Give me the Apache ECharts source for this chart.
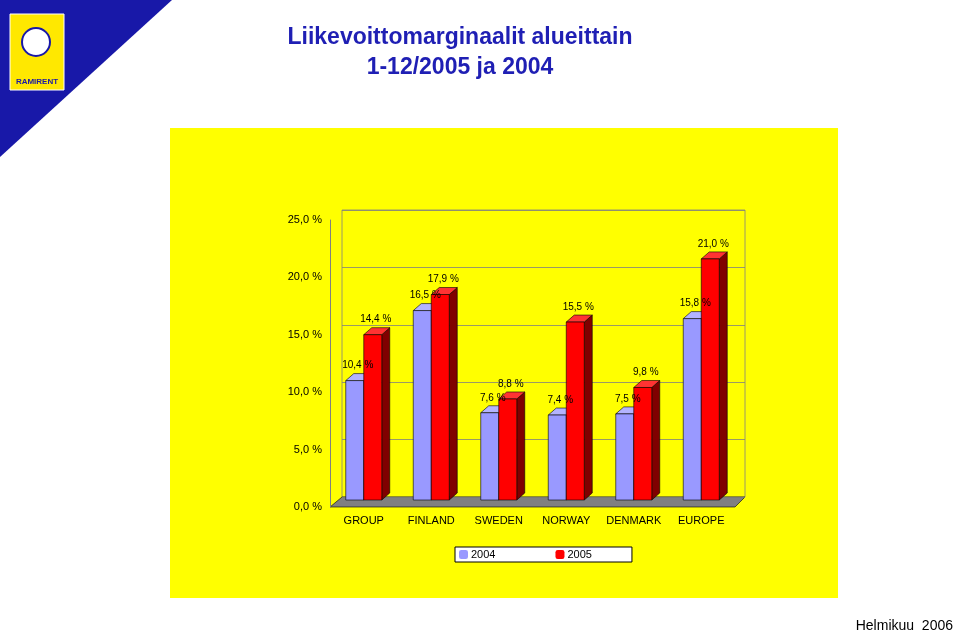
<!DOCTYPE html>
<html><head><meta charset="utf-8">
<script src="https://cdn.jsdelivr.net/npm/echarts@6/dist/echarts.min.js"></script>
<style>html,body{margin:0;padding:0;background:#fff}#c{width:960px;height:639px}</style>
</head><body><div id="c"></div>
<script>
const categories = ['GROUP','FINLAND','SWEDEN','NORWAY','DENMARK','EUROPE'];
const values2004 = [10.4,16.5,7.6,7.4,7.5,15.8];
const values2005 = [14.4,17.9,8.8,15.5,9.8,21.0];
const yTicks = [0,5,10,15,20,25];

const chart = echarts.init(document.getElementById('c'));
const DX = 8, DY = -7, BW = 18;
function fmt(v){return v.toFixed(1).replace('.', ',') + ' %';}
function make3d(front, top, side, off){
  return function(params, api){
    const i = api.value(0), v = api.value(1);
    const p = api.coord([i, v]); const b = api.coord([i, 0]);
    const x0 = p[0] + off, x1 = x0 + BW, y0 = p[1], y1 = b[1];
    return {type:'group', children:[
      {type:'polygon', shape:{points:[[x1,y1],[x1+DX,y1+DY],[x1+DX,y0+DY],[x1,y0]]}, style:{fill:side, stroke:'#000', lineWidth:0.6}},
      {type:'polygon', shape:{points:[[x0,y0],[x0+DX,y0+DY],[x1+DX,y0+DY],[x1,y0]]}, style:{fill:top, stroke:'#000', lineWidth:0.6}},
      {type:'rect', shape:{x:x0,y:y0,width:BW,height:y1-y0}, style:{fill:front, stroke:'#000', lineWidth:0.6}}
    ]};
  };
}
function makeLabel(off){
  return function(params, api){
    const i = api.value(0), v = api.value(1);
    const p = api.coord([i, v]);
    const x0 = p[0] + off;
    return {type:'text', style:{text:fmt(v), x:x0+BW/2+3, y:p[1]-20, align:'center', fill:'#000', font:'10px Arial, "Liberation Sans"'}};
  };
}
chart.setOption({
  animation:false,
  backgroundColor:'#fff',
  graphic:[
    {type:'polygon', shape:{points:[[0,0],[172,0],[0,157]]}, style:{fill:'#1818a8'}},
    {type:'rect', shape:{x:10,y:14,width:54,height:76}, style:{fill:'#ffe800', stroke:'#fff', lineWidth:1}},
    {type:'circle', shape:{cx:36,cy:42,r:14}, style:{fill:'#fff', stroke:'#1818a8', lineWidth:2}},
    {type:'text', style:{text:'RAMIRENT', x:37, y:78, align:'center', fill:'#1818a8', font:'bold 8px Arial'}},
    {type:'rect', shape:{x:170,y:128,width:668,height:470}, style:{fill:'#ffff00'}, z:-10},
    {type:'polygon', shape:{points:[[330,507],[342,497],[745,497],[735,507]]}, style:{fill:'#808080', stroke:'#000', lineWidth:0.6}, z:-1},
    {type:'rect', shape:{x:342,y:210,width:403,height:287}, style:{fill:'#ffff00', stroke:'#808080', lineWidth:0.8}, z:-5},
    {type:'text', style:{text:'Liikevoittomarginaalit alueittain', x:460, y:38, align:'center', verticalAlign:'middle', fill:'#1f1fb4', font:'bold 23px Arial, "Liberation Sans"'}},
    {type:'text', style:{text:'1-12/2005 ja 2004', x:460, y:68, align:'center', verticalAlign:'middle', fill:'#1f1fb4', font:'bold 23px Arial, "Liberation Sans"'}},
    {type:'text', style:{text:'Helmikuu  2006', x:953, y:633, align:'right', verticalAlign:'bottom', fill:'#000', font:'14px Arial, "Liberation Sans"'}}
  ],
  legend:{data:['2004','2005'], left:455, top:547, width:185, itemGap:60, itemWidth:9, itemHeight:9,
    borderColor:'#000', borderWidth:1, padding:[2,40,2,4], backgroundColor:'#fff',
    textStyle:{fontSize:11, fontFamily:'Arial', color:'#000', padding:[0,0,0,-2]}},
  grid:[{left:330, right:225, top:213, bottom:139}, {left:342, right:215, top:210, bottom:142}, {left:330, right:225, top:220, bottom:132}],
  xAxis:[
    {type:'category', data:categories, gridIndex:0, axisTick:{show:false}, axisLine:{show:false},
     axisLabel:{interval:0, fontSize:11, fontFamily:'Arial', color:'#000', margin:15}},
    {type:'category', data:categories, gridIndex:1, show:false},
    {type:'category', data:categories, gridIndex:2, show:false}
  ],
  yAxis:[
    {type:'value', gridIndex:0, min:0, max:25, interval:5, show:false},
    {type:'value', gridIndex:1, min:0, max:25, interval:5, axisLabel:{show:false}, axisLine:{show:false},
     splitLine:{show:true, lineStyle:{color:'#808080', width:0.8}}},
    {type:'value', gridIndex:2, min:0, max:25, interval:5, splitLine:{show:false},
     axisLine:{show:true, lineStyle:{color:'#808080'}}, axisTick:{show:false},
     axisLabel:{formatter:v=>yTicks.includes(v)?fmt(v):'', fontSize:11, fontFamily:'Arial', color:'#000', margin:8}}
  ],
  series:[
    {name:'2004', type:'custom', xAxisIndex:0, yAxisIndex:0, itemStyle:{color:'#9999ff'},
     renderItem:make3d('#9999ff','#b3b3ff','#333399',-BW), data:values2004.map((v,i)=>[i,v])},
    {name:'2005', type:'custom', xAxisIndex:0, yAxisIndex:0, itemStyle:{color:'#ff0000'},
     renderItem:make3d('#ff0000','#ff3333','#800000',0), data:values2005.map((v,i)=>[i,v])},
    {name:'l2004', type:'custom', z:10, xAxisIndex:0, yAxisIndex:0, renderItem:makeLabel(-BW), data:values2004.map((v,i)=>[i,v])},
    {name:'l2005', type:'custom', z:10, xAxisIndex:0, yAxisIndex:0, renderItem:makeLabel(0), data:values2005.map((v,i)=>[i,v])}
  ]
});
</script></body></html>
